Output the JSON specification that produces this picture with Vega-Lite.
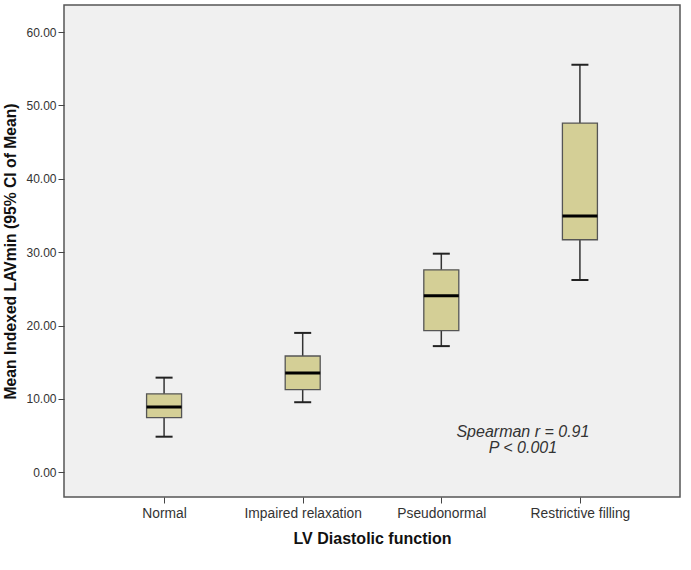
{
  "$schema": "https://vega.github.io/schema/vega-lite/v6.json",
  "width": 616,
  "height": 492,
  "autosize": "none",
  "padding": {"left": 64, "top": 5, "right": 11, "bottom": 73},
  "background": "white",
  "config": {
    "font": "Liberation Sans",
    "view": {"fill": "#f0f0f0", "stroke": "#555555", "strokeWidth": 1.5}
  },
  "data": {
    "values": [
      {"group": "Normal", "lo": 4.85, "q1": 7.45, "med": 8.9, "q3": 10.7, "hi": 12.9},
      {"group": "Impaired relaxation", "lo": 9.55, "q1": 11.27, "med": 13.55, "q3": 15.85, "hi": 19.0},
      {"group": "Pseudonormal", "lo": 17.2, "q1": 19.3, "med": 24.05, "q3": 27.6, "hi": 29.8},
      {"group": "Restrictive filling", "lo": 26.2, "q1": 31.7, "med": 34.95, "q3": 47.6, "hi": 55.55}
    ]
  },
  "encoding": {
    "x": {
      "field": "group",
      "type": "nominal",
      "sort": null,
      "scale": {"type": "point", "padding": 0.722},
      "axis": {
        "title": "LV Diastolic function",
        "titleFont": "Liberation Sans",
        "titleFontSize": 16,
        "titleFontWeight": "bold",
        "titleColor": "#111111",
        "titlePadding": 11,
        "labelAngle": 0,
        "labelFontSize": 13.8,
        "labelColor": "#333333",
        "labelPadding": 3,
        "tickSize": 6,
        "tickColor": "#444444",
        "domain": false,
        "grid": false
      }
    }
  },
  "layer": [
    {
      "mark": {"type": "rule", "color": "#333333", "strokeWidth": 1.5},
      "encoding": {
        "y": {
          "field": "lo",
          "type": "quantitative",
          "scale": {"domain": [-3.37, 63.7], "nice": false, "zero": false},
          "axis": {
            "title": "Mean Indexed LAVmin (95% CI of Mean)",
            "titleFont": "Liberation Sans",
            "titleFontSize": 15.7,
            "titleFontWeight": "bold",
            "titleColor": "#111111",
            "titlePadding": 7,
            "values": [0, 10, 20, 30, 40, 50, 60],
            "format": ".2f",
            "labelFontSize": 12,
            "labelColor": "#333333",
            "labelPadding": 2,
            "tickSize": 6,
            "tickColor": "#444444",
            "domain": false,
            "grid": false
          }
        },
        "y2": {"field": "hi"}
      }
    },
    {
      "mark": {"type": "bar", "size": 35, "fill": "#d4cf96", "stroke": "#555555", "strokeWidth": 1.3},
      "encoding": {
        "y": {"field": "q1", "type": "quantitative"},
        "y2": {"field": "q3"}
      }
    },
    {
      "mark": {"type": "tick", "size": 35, "thickness": 3, "color": "#000000", "opacity": 1},
      "encoding": {"y": {"field": "med", "type": "quantitative"}}
    },
    {
      "mark": {"type": "tick", "size": 17, "thickness": 2, "color": "#222222", "opacity": 1},
      "encoding": {"y": {"field": "lo", "type": "quantitative"}}
    },
    {
      "mark": {"type": "tick", "size": 17, "thickness": 2, "color": "#222222", "opacity": 1},
      "encoding": {"y": {"field": "hi", "type": "quantitative"}}
    },
    {
      "data": {
        "values": [
          {"group": "Restrictive filling", "yv": 5.54, "t": "Spearman r = 0.91"},
          {"group": "Restrictive filling", "yv": 3.31, "t": "P < 0.001"}
        ]
      },
      "mark": {"type": "text", "fontSize": 16, "fontStyle": "italic", "color": "#333333", "align": "center", "baseline": "middle", "dx": -57},
      "encoding": {
        "y": {"field": "yv", "type": "quantitative"},
        "text": {"field": "t"}
      }
    }
  ]
}
